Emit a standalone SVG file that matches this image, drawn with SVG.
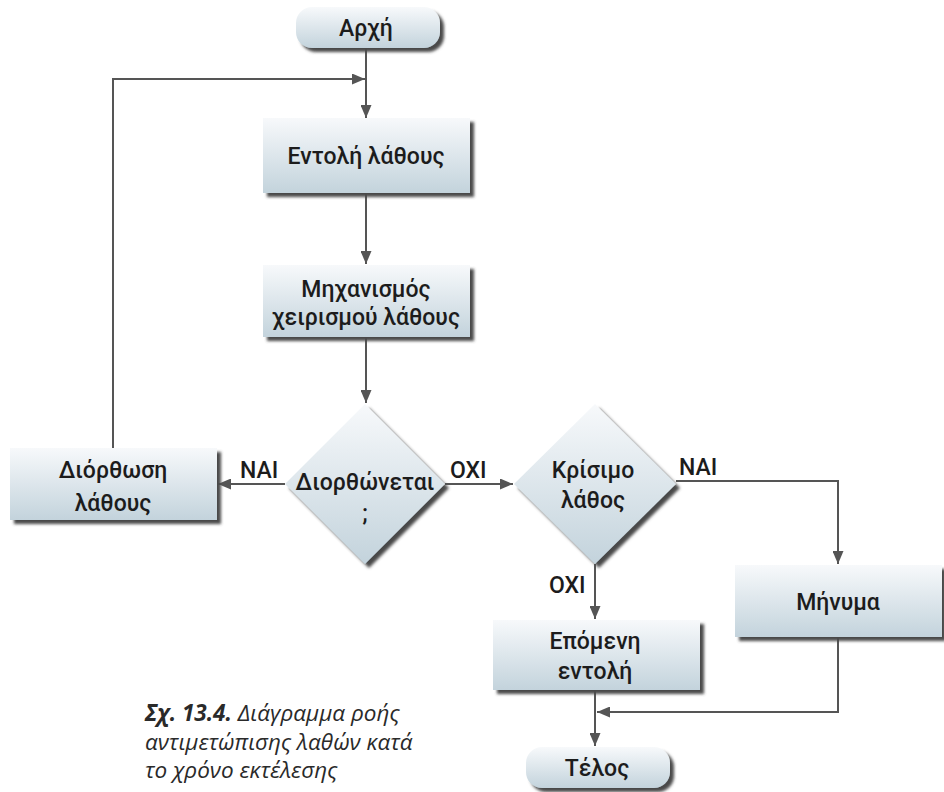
<svg xmlns="http://www.w3.org/2000/svg" width="944" height="792" viewBox="0 0 944 792">
<defs>
<linearGradient id="g" x1="0" y1="0" x2="0" y2="1">
<stop offset="0" stop-color="#f7f9fb"/>
<stop offset="1" stop-color="#c3d3dc"/>
</linearGradient>
<filter id="sh" x="-10%" y="-10%" width="130%" height="140%">
<feGaussianBlur in="SourceAlpha" stdDeviation="1.5" result="b"/>
<feOffset in="b" dx="4" dy="4" result="o"/>
<feFlood flood-color="#4a4a4a"/>
<feComposite in2="o" operator="in" result="s"/>
<feMerge><feMergeNode in="s"/><feMergeNode in="SourceGraphic"/></feMerge>
</filter>
<marker id="ah" viewBox="0 0 13 11" refX="13" refY="5.5" markerWidth="13" markerHeight="11" markerUnits="userSpaceOnUse" orient="auto">
<path d="M0,0 L13,5.5 L0,11 z" fill="#555"/>
</marker>
</defs>
<style>
.box{fill:url(#g);filter:url(#sh);}
.t{font-family:Roboto,"Noto Sans",sans-serif;font-weight:500;font-size:23px;fill:#1c1c1c;text-anchor:middle;}
.lbl{font-family:Roboto,"Noto Sans",sans-serif;font-weight:500;font-size:23px;fill:#1c1c1c;}
.c{fill:none;stroke:#555;stroke-width:2;}
.cap{font-family:"Open Sans","Noto Sans",sans-serif;font-style:italic;font-size:22.5px;fill:#2a2a2a;}
</style>
<g id="connectors">
<path class="c" d="M366,48 V118" marker-end="url(#ah)"/>
<path class="c" d="M113,448 V79 H365" marker-end="url(#ah)"/>
<path class="c" d="M366,193 V264" marker-end="url(#ah)"/>
<path class="c" d="M366,337 V403" marker-end="url(#ah)"/>
<path class="c" d="M285,484 H218" marker-end="url(#ah)"/>
<path class="c" d="M445,484 H513" marker-end="url(#ah)"/>
<path class="c" d="M676,481 H838 V564" marker-end="url(#ah)"/>
<path class="c" d="M595,564 V619" marker-end="url(#ah)"/>
<path class="c" d="M595,690 V746" marker-end="url(#ah)"/>
<path class="c" d="M838,637 V712 H597" marker-end="url(#ah)"/>
<text class="lbl" x="240" y="478">ΝΑΙ</text>
<text class="lbl" x="450" y="478">ΟΧΙ</text>
<text class="lbl" x="679" y="475">ΝΑΙ</text>
<text class="lbl" x="549" y="593">ΟΧΙ</text>
</g>
<g id="start">
<rect class="box" x="296" y="7" width="144" height="41" rx="16"/>
<text class="t" x="366" y="36">Αρχή</text>
</g>
<g id="cmd">
<rect class="box" x="263" y="118" width="207" height="75"/>
<text class="t" x="366" y="164">Εντολή λάθους</text>
</g>
<g id="mech">
<rect class="box" x="263" y="265" width="207" height="72"/>
<text class="t" x="366" y="297">Μηχανισμός</text>
<text class="t" x="366" y="325">χειρισμού λάθους</text>
</g>
<g id="fixable">
<path class="box" d="M365,404 L445,484 L365,564 L285,484 z"/>
<text class="t" x="365" y="490">Διορθώνεται</text>
<text class="t" x="365" y="521">;</text>
</g>
<g id="fix">
<rect class="box" x="10" y="448" width="207" height="72"/>
<text class="t" x="113" y="478">Διόρθωση</text>
<text class="t" x="113" y="511">λάθους</text>
</g>
<g id="critical">
<path class="box" d="M595,404 L676,484 L595,564 L514,484 z"/>
<text class="t" x="593" y="478">Κρίσιμο</text>
<text class="t" x="593" y="508">λάθος</text>
</g>
<g id="msg">
<rect class="box" x="735" y="565" width="207" height="72"/>
<text class="t" x="838" y="610">Μήνυμα</text>
</g>
<g id="next">
<rect class="box" x="493" y="620" width="207" height="70"/>
<text class="t" x="595" y="649">Επόμενη</text>
<text class="t" x="595" y="679">εντολή</text>
</g>
<g id="end">
<rect class="box" x="526" y="747" width="144" height="41" rx="16"/>
<text class="t" x="597" y="776">Τέλος</text>
</g>
<g id="caption">
<text class="cap" x="145" y="721"><tspan font-weight="bold">Σχ. 13.4.</tspan> Διάγραμμα ροής</text>
<text class="cap" x="145" y="750">αντιμετώπισης λαθών κατά</text>
<text class="cap" x="145" y="778">το χρόνο εκτέλεσης</text>
</g>
</svg>
